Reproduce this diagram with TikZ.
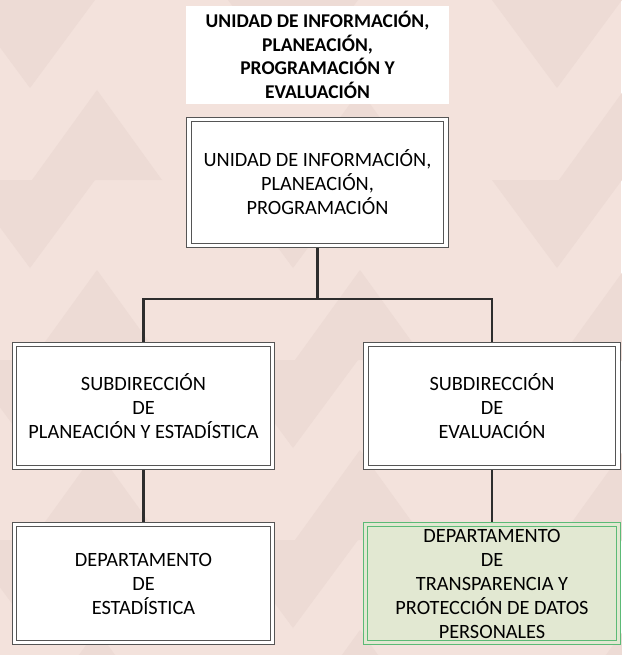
\documentclass[tikz,border=0pt]{standalone}
\usepackage{fontspec}
\setmainfont{Carlito}
\usetikzlibrary{shadows,backgrounds}
\definecolor{bgA}{RGB}{243,226,220}
\definecolor{bgB}{RGB}{237,219,213}
\definecolor{lnC}{RGB}{45,45,45}
\definecolor{boxD}{RGB}{85,85,85}
\definecolor{grF}{RGB}{226,232,210}
\definecolor{grD}{RGB}{92,186,118}
\begin{document}
\begin{tikzpicture}[x=1pt,y=-1pt,
  orgbox/.style={draw=boxD, line width=0.8pt, double=white, double distance=3.5pt,
    fill=white, align=center, font=\fontsize{20.3}{24}\selectfont, inner sep=0pt,
    drop shadow={shadow xshift=2.5pt, shadow yshift=-2.5pt, fill=black, opacity=0.22}},
  greenbox/.style={orgbox, draw=grD, double=grF, fill=grF},
  titlebox/.style={fill=white, align=center, inner sep=0pt,
    font=\fontsize{19.5}{23.5}\selectfont\bfseries},
  conn/.style={draw=lnC, line width=2.3pt}]
\useasboundingbox (0,0) rectangle (621,655);
% nodes
\node[titlebox, minimum width=263pt, minimum height=98pt] (title) at (317.5,55)
  {UNIDAD DE INFORMACIÓN,\\PLANEACIÓN,\\PROGRAMACIÓN Y\\EVALUACIÓN};
\node[orgbox, minimum width=257pt, minimum height=126pt] (top) at (317.5,182.5)
  {UNIDAD DE INFORMACIÓN,\\PLANEACIÓN,\\PROGRAMACIÓN};
\node[orgbox, minimum width=258pt, minimum height=123pt] (sl) at (143.5,406)
  {SUBDIRECCIÓN\\DE\\PLANEACIÓN Y ESTADÍSTICA};
\node[orgbox, minimum width=252pt, minimum height=123pt] (sr) at (492,406)
  {SUBDIRECCIÓN\\DE\\EVALUACIÓN};
\node[orgbox, minimum width=258pt, minimum height=118pt] (dl) at (143.5,583.5)
  {DEPARTAMENTO\\DE\\ESTADÍSTICA};
\node[greenbox, minimum width=253pt, minimum height=118pt] (dr) at (492,583.5)
  {DEPARTAMENTO\\DE\\TRANSPARENCIA Y\\PROTECCIÓN DE DATOS\\PERSONALES};
\coordinate (j) at (317.5,299);
\begin{pgfonlayer}{background}
  % background
  \fill[bgA] (0,0) rectangle (621,655);
  \foreach \r in {0,180,360,540}{
    \foreach \a in {30,293,557}{
      \fill[bgB] (\a-65,\r) -- (\a+65,\r) -- (\a,\r+88) -- cycle;
      \fill[bgB] (\a+67,\r+90) -- (\a+132,\r+180) -- (\a+2,\r+180) -- cycle;
    }
  }
  % connectors
  \draw[conn] (top.south) -- (j);
  \draw[conn] (sl.north) |- (j);
  \draw[conn] (sr.north) |- (j);
  \draw[conn] (sl.south) -- (dl.north);
  \draw[conn] (sr.south) -- (dr.north);
\end{pgfonlayer}
\end{tikzpicture}
\end{document}
